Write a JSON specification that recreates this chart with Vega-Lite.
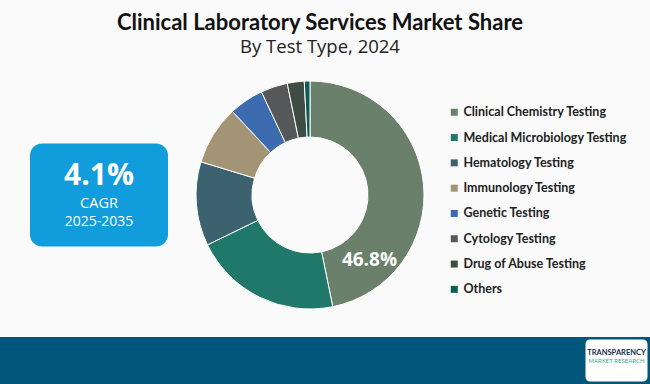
{
  "$schema": "https://vega.github.io/schema/vega-lite/v6.json",
  "background": "#FAFAFA",
  "padding": {"top": 11, "left": 0, "right": 0, "bottom": 0},
  "title": {
    "text": "Clinical Laboratory Services Market Share",
    "subtitle": "By Test Type, 2024",
    "anchor": "middle",
    "dx": -5,
    "font": "Lato",
    "fontSize": 22,
    "fontWeight": "bold",
    "color": "#111111",
    "subtitleFont": "Open Sans",
    "subtitleFontSize": 18.5,
    "subtitleColor": "#222222",
    "subtitlePadding": 3,
    "offset": 9
  },
  "datasets": {
    "share": [
      {"idx": 1, "type": "Clinical Chemistry Testing", "share": 46.8},
      {"idx": 2, "type": "Medical Microbiology Testing", "share": 21.0},
      {"idx": 3, "type": "Hematology Testing", "share": 11.9},
      {"idx": 4, "type": "Immunology Testing", "share": 8.4},
      {"idx": 5, "type": "Genetic Testing", "share": 4.9},
      {"idx": 6, "type": "Cytology Testing", "share": 3.8},
      {"idx": 7, "type": "Drug of Abuse Testing", "share": 2.4},
      {"idx": 8, "type": "Others", "share": 0.8}
    ],
    "cagr": [{"value": "4.1%", "label": "CAGR", "period": "2025-2035"}],
    "callout": [{"label": "46.8%"}],
    "brand": [{"name": "TRANSPARENCY", "tagline": "MARKET RESEARCH"}]
  },
  "spacing": 13,
  "vconcat": [
    {
      "spacing": 20,
      "center": true,
      "hconcat": [
        {
          "data": {"values": []},
          "mark": "text",
          "width": 10,
          "height": 10
        },
        {
          "width": 138,
          "height": 103,
          "data": {"name": "cagr"},
          "view": {"fill": "#119CDB", "cornerRadius": 12, "stroke": null},
          "layer": [
            {
              "mark": {"type": "text", "font": "Open Sans", "fontWeight": "bold", "fontSize": 30, "color": "white", "baseline": "middle", "dy": -19},
              "encoding": {"text": {"field": "value"}}
            },
            {
              "mark": {"type": "text", "font": "Open Sans", "fontSize": 14.5, "color": "white", "baseline": "middle", "dy": 8.5},
              "encoding": {"text": {"field": "label"}}
            },
            {
              "mark": {"type": "text", "font": "Open Sans", "fontSize": 14, "color": "white", "baseline": "middle", "dy": 27}, 
              "encoding": {"text": {"field": "period"}}
            }
          ]
        },
        {
          "width": 244,
          "height": 258,
          "layer": [
            {
              "data": {"name": "share"},
              "mark": {"type": "arc", "outerRadius": 114, "innerRadius": 58, "stroke": "white", "strokeWidth": 1},
              "encoding": {
                "theta": {"field": "share", "type": "quantitative", "stack": true},
                "order": {"field": "idx", "type": "quantitative"},
                "color": {
                  "field": "type",
                  "type": "nominal",
                  "scale": {
                    "domain": ["Clinical Chemistry Testing", "Medical Microbiology Testing", "Hematology Testing", "Immunology Testing", "Genetic Testing", "Cytology Testing", "Drug of Abuse Testing", "Others"],
                    "range": ["#6A806A", "#1F786A", "#3C6270", "#A39476", "#3C6BB0", "#555759", "#3E4C44", "#0D5C55"]
                  },
                  "legend": {
                    "title": null,
                    "orient": "none",
                    "legendX": 448,
                    "legendY": 40,
                    "padding": 0,
                    "symbolType": "square",
                    "symbolSize": 49,
                    "symbolStrokeWidth": 0,
                    "labelFont": "Lato",
                    "labelFontSize": 12.5,
                    "labelFontWeight": "bold",
                    "labelColor": "#222222",
                    "labelOffset": 3,
                    "labelLimit": 300,
                    "rowPadding": 12.3
                  }
                }
              }
            },
            {
              "data": {"name": "callout"},
              "mark": {"type": "text", "theta": 2.4, "radius": 88, "font": "Open Sans", "fontWeight": "bold", "fontSize": 19, "color": "white", "baseline": "middle"},
              "encoding": {"text": {"field": "label"}}
            }
          ]
        }
      ]
    },
    {
      "spacing": 0,
      "hconcat": [
        {
          "data": {"values": []},
          "mark": "text",
          "width": 583,
          "height": 47,
          "view": {"fill": "#00567A", "stroke": null}
        },
        {
          "data": {"name": "brand"},
          "width": 67,
          "height": 47,
          "view": {"fill": "#00567A", "stroke": null},
          "layer": [
            {
              "mark": {"type": "rect", "fill": "white", "stroke": "#00567A", "strokeWidth": 5, "cornerRadius": 7, "clip": true},
              "encoding": {}
            },
            {
              "mark": {"type": "text", "font": "Lato", "fontWeight": "bold", "fontSize": 7.5, "color": "#1B2A4A", "baseline": "middle", "dy": -8},
              "encoding": {"text": {"field": "name"}}
            },
            {
              "mark": {"type": "text", "font": "Lato", "fontSize": 6, "color": "#3DAA8A", "baseline": "middle", "dy": 0},
              "encoding": {"text": {"field": "tagline"}}
            }
          ]
        }
      ]
    }
  ],
  "config": {
    "view": {"stroke": null}
  }
}
